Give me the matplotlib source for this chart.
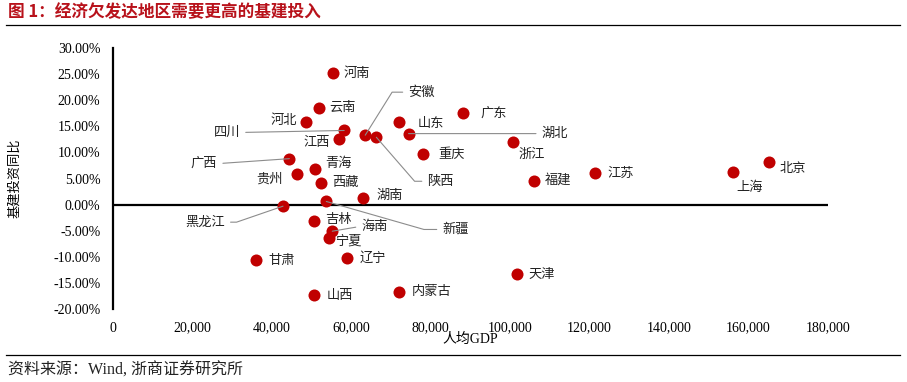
import matplotlib
matplotlib.use('Agg')
import matplotlib.pyplot as plt
from matplotlib.lines import Line2D
from matplotlib.ticker import FuncFormatter

# 人均GDP (元) 与 基建投资同比
provinces = ['河南', '云南', '河北', '四川', '江西', '安徽', '陕西', '山东', '湖北', '广东',
             '重庆', '浙江', '福建', '江苏', '上海', '北京', '广西', '青海', '贵州', '西藏',
             '湖南', '新疆', '黑龙江', '吉林', '海南', '宁夏', '辽宁', '甘肃', '山西', '内蒙古', '天津']
gdp_per_capita = [55500, 51900, 48600, 58200, 57000, 63500, 66300, 72100, 74400, 88200,
                  78100, 100600, 105900, 121300, 156000, 165100, 44400, 50900, 46400, 52400,
                  63000, 53700, 42800, 50700, 55200, 54500, 58900, 36000, 50700, 72100, 101600]
infra_growth = [0.252, 0.186, 0.158, 0.142, 0.125, 0.133, 0.129, 0.158, 0.136, 0.175,
                0.096, 0.119, 0.046, 0.060, 0.062, 0.081, 0.088, 0.069, 0.058, 0.042,
                0.013, 0.006, -0.003, -0.031, -0.051, -0.064, -0.103, -0.107, -0.174, -0.167, -0.132]

# label placement (pixel offsets from point), ha, leader line style
label_pos = {
    '河南': (10, 0, 'left', None), '云南': (10, 0, 'left', None),
    '河北': (-9, 2, 'right', None), '四川': (-104, -2, 'right', 'straight'),
    '江西': (-9, -3, 'right', None), '安徽': (43, 43, 'left', 'angle,angleA=0,angleB=58,rad=0'),
    '陕西': (51, -44, 'left', 'angle,angleA=0,angleB=-49,rad=0'), '山东': (18, -1, 'left', None),
    '湖北': (133, 0, 'left', 'straight'), '广东': (17, 0, 'left', None),
    '重庆': (15, 0, 'left', None), '浙江': (6, -12, 'left', None),
    '福建': (11, 0, 'left', None), '江苏': (13, 0, 'left', None),
    '上海': (4, -15, 'left', None), '北京': (11, -6, 'left', None),
    '广西': (-72, -5, 'right', 'straight'), '青海': (10, 5, 'left', None),
    '贵州': (-15, -5, 'right', None), '西藏': (11, 0, 'left', None),
    '湖南': (13, 2, 'left', None), '新疆': (116, -28, 'left', 'angle,angleA=0,angleB=-16,rad=0'),
    '黑龙江': (-58, -16, 'right', 'angle,angleA=0,angleB=19,rad=0'), '吉林': (11, 1, 'left', None),
    '海南': (29, 5, 'left', 'straight'), '宁夏': (6, -3, 'left', None),
    '辽宁': (13, 0, 'left', None), '甘肃': (12, 0, 'left', None),
    '山西': (12, 0, 'left', None), '内蒙古': (12, 0, 'left', None), '天津': (12, -1, 'left', None),
}

cjk = ['Noto Sans CJK SC', 'DejaVu Sans']
mixed = ['Liberation Serif', 'Noto Sans CJK SC', 'DejaVu Sans']
red = '#C00000'

fig = plt.figure(figsize=(9.07, 3.82), dpi=100)
ax = fig.add_axes([113 / 907, 1 - 309 / 382, (828 - 113) / 907, (309 - 48) / 382])

ax.scatter(gdp_per_capita, infra_growth, s=75, color=red, zorder=3, linewidths=0)
ax.axhline(0, color='black', lw=1.6, zorder=2)

for name, x, y in zip(provinces, gdp_per_capita, infra_growth):
    dx, dy, ha, conn = label_pos[name]
    arrow = None
    if conn is not None:
        arrow = dict(arrowstyle='-', color='#8c8c8c', lw=0.8, shrinkA=2, shrinkB=0,
                     relpos=(0, 0.5) if ha == 'left' else (1, 0.5))
        if conn != 'straight':
            arrow['connectionstyle'] = conn
    ax.annotate(name, (x, y), xytext=(dx, dy), textcoords='offset pixels',
                ha=ha, va='center', fontsize=9.5, family=cjk, color='#222222',
                arrowprops=arrow, zorder=4)

ax.set_xlim(0, 180000)
ax.set_ylim(-0.20, 0.30)
ax.set_xticks(range(0, 180001, 20000))
ax.set_yticks([-0.20, -0.15, -0.10, -0.05, 0, 0.05, 0.10, 0.15, 0.20, 0.25, 0.30])
ax.xaxis.set_major_formatter(FuncFormatter(lambda v, p: f'{v:,.0f}'))
ax.yaxis.set_major_formatter(FuncFormatter(lambda v, p: f'{v * 100:.2f}%'))
ax.tick_params(axis='both', length=0, labelsize=10)
ax.tick_params(axis='y', pad=9)
ax.tick_params(axis='x', pad=9)
for lab in ax.get_xticklabels() + ax.get_yticklabels():
    lab.set_fontfamily('Liberation Serif')

for s in ['top', 'right', 'bottom']:
    ax.spines[s].set_visible(False)
ax.spines['left'].set_linewidth(1.6)

ax.set_xlabel('人均GDP', family=mixed, fontsize=10, labelpad=-1)
ax.set_ylabel('基建投资同比', family=cjk, fontsize=9.5, labelpad=23)

# title, rules and source
fig.text(8 / 907, 1 - 12 / 382, '图 1：经济欠发达地区需要更高的基建投入', family=cjk,
         fontsize=12, fontweight='bold', color='#B8121B', ha='left', va='center')
fig.add_artist(Line2D([6 / 907, 900 / 907], [1 - 25 / 382] * 2, color='black', lw=0.9))
fig.add_artist(Line2D([6 / 907, 900 / 907], [1 - 355 / 382] * 2, color='black', lw=0.9))
fig.text(8 / 907, 1 - 371 / 382, '资料来源：Wind, 浙商证券研究所', family=mixed,
         fontsize=11.5, color='#222222', ha='left', va='center')

fig.savefig('out.png', dpi=100)
